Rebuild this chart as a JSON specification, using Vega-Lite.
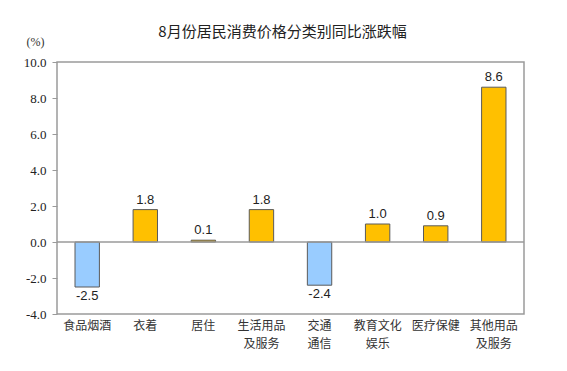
{
  "$schema": "https://vega.github.io/schema/vega-lite/v6.json",
  "autosize": {"type": "none"},
  "padding": {"left": 57, "top": 62, "right": 43, "bottom": 57},
  "width": 467,
  "height": 252,
  "background": "white",
  "title": {
    "text": "8月份居民消费价格分类别同比涨跌幅",
    "font": "Noto Sans CJK SC",
    "fontSize": 15,
    "fontWeight": "normal",
    "color": "#222222",
    "anchor": "middle",
    "dx": -8,
    "offset": -5
  },
  "config": {
    "view": {"stroke": "#9a9a9a", "strokeWidth": 1.5},
    "axis": {"grid": false}
  },
  "data": {
    "values": [
      {"cat": "食品烟酒", "v": -2.5},
      {"cat": "衣着", "v": 1.8},
      {"cat": "居住", "v": 0.1},
      {"cat": "生活用品|及服务", "v": 1.8},
      {"cat": "交通|通信", "v": -2.4},
      {"cat": "教育文化|娱乐", "v": 1.0},
      {"cat": "医疗保健", "v": 0.9},
      {"cat": "其他用品|及服务", "v": 8.6}
    ]
  },
  "encoding": {
    "x": {
      "field": "cat",
      "type": "nominal",
      "sort": null,
      "scale": {"paddingInner": 0.58, "paddingOuter": 0.31},
      "axis": {
        "title": null,
        "orient": "bottom",
        "domain": false,
        "ticks": false,
        "labelAngle": 0,
        "labelExpr": "split(datum.label, '|')",
        "labelFont": "Noto Sans CJK SC",
        "labelFontSize": 12,
        "labelColor": "#333333",
        "labelPadding": 6,
        "labelLineHeight": 18,
        "labelBaseline": "top"
      }
    },
    "y": {
      "field": "v",
      "type": "quantitative",
      "scale": {"domain": [-4, 10], "nice": false, "zero": false},
      "axis": {
        "values": [-4, -2, 0, 2, 4, 6, 8, 10],
        "format": ".1f",
        "labelExpr": "replace(datum.label, '\u2212', '-')",
        "title": "(%)",
        "titleAngle": 0,
        "titleX": -22,
        "titleY": -14,
        "titleFont": "Liberation Serif",
        "titleFontSize": 12,
        "titleFontWeight": "normal",
        "titleColor": "#333333",
        "titleAlign": "center",
        "domain": false,
        "tickColor": "#9a9a9a",
        "tickSize": 5,
        "labelFont": "Liberation Serif",
        "labelFontSize": 13,
        "labelColor": "#222222",
        "labelPadding": 6,
        "labelOverlap": false,
        "labelFlush": false
      }
    }
  },
  "layer": [
    {
      "mark": {"type": "bar", "stroke": "#5a5a5a", "strokeWidth": 1},
      "encoding": {
        "color": {
          "condition": {"test": "datum.v < 0", "value": "#99CCFF"},
          "value": "#FFC000"
        }
      }
    },
    {
      "mark": {"type": "rule", "color": "#9a9a9a", "strokeWidth": 1.5},
      "data": {"values": [{"v": 0}]},
      "encoding": {"x": {"value": 0}, "x2": {"value": 467}}
    },
    {
      "transform": [{"filter": "datum.v >= 0"}],
      "mark": {"type": "text", "font": "Liberation Sans", "fontSize": 13, "color": "#222222", "baseline": "bottom", "dy": -3, "text": {"expr": "format(datum.v, '.1f')"}},
      "encoding": {}
    },
    {
      "transform": [{"filter": "datum.v < 0"}],
      "mark": {"type": "text", "font": "Liberation Sans", "fontSize": 13, "color": "#222222", "baseline": "top", "dy": 3, "text": {"expr": "replace(format(datum.v, '.1f'), '\u2212', '-')"}},
      "encoding": {}
    }
  ]
}
